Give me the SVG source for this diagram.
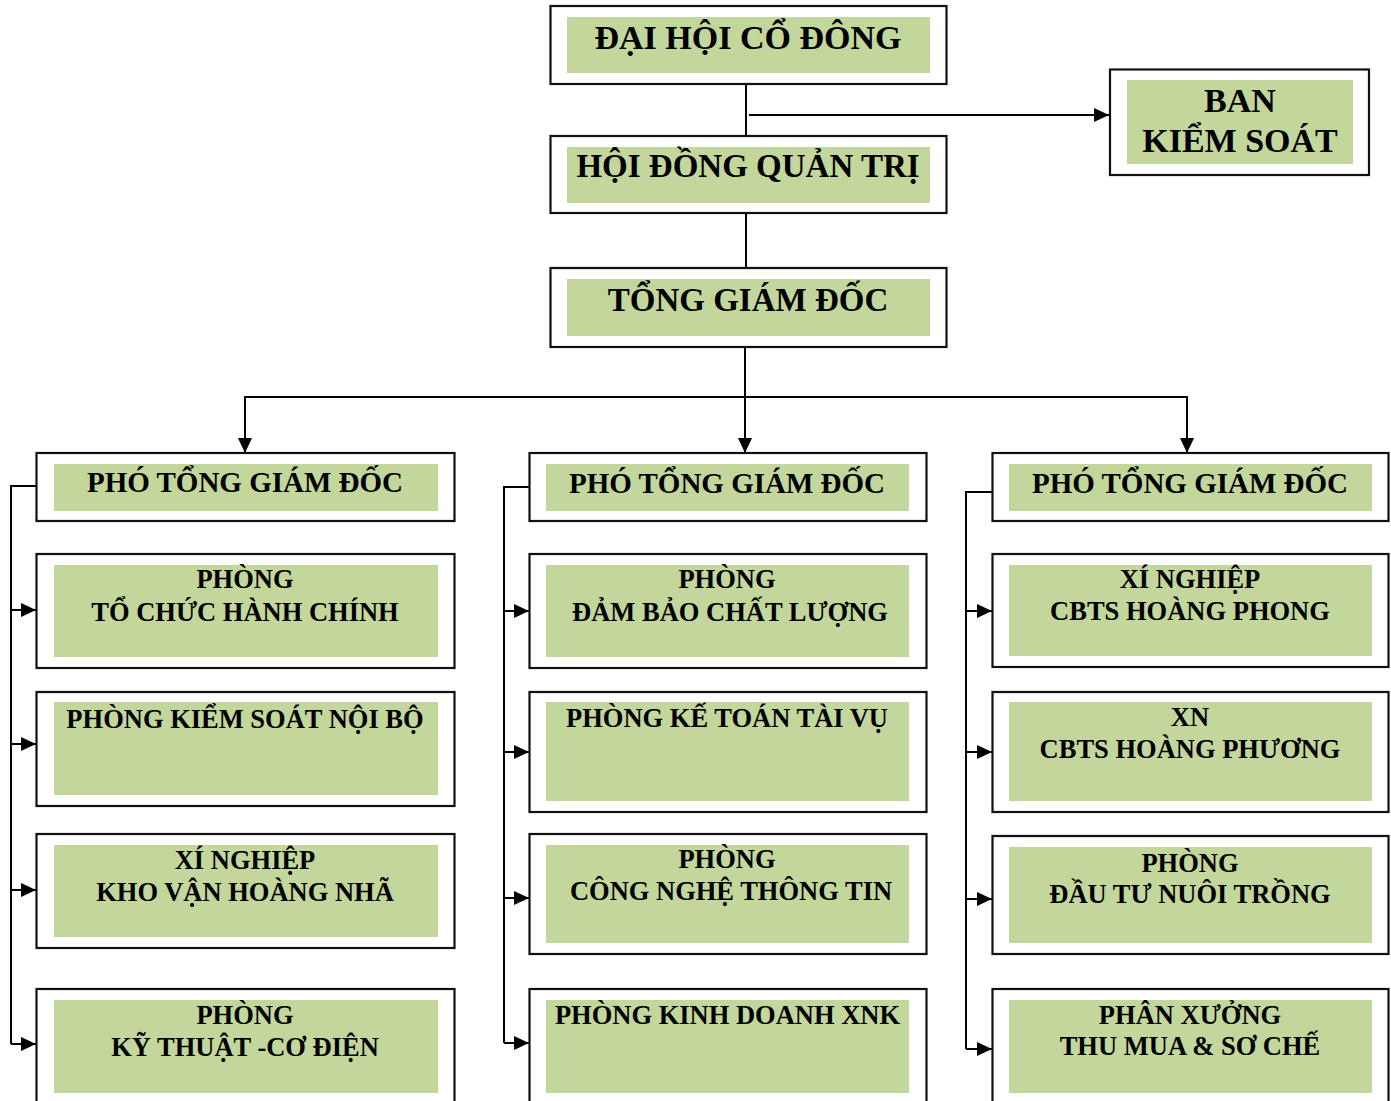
<svg xmlns="http://www.w3.org/2000/svg" width="1391" height="1101" viewBox="0 0 1391 1101">
<style>
.o{fill:#fff;stroke:#111;stroke-width:2.2}
.g{fill:#C3D69B}
text{font-family:"Liberation Serif","Times New Roman",serif;font-weight:bold;fill:#000;text-anchor:middle}
.t1{font-size:33px}
.t0{font-size:34px}
.t2{font-size:29px}
.t3{font-size:26.5px}
.c{fill:none;stroke:#000;stroke-width:2}
</style>
<defs>
<marker id="ah" markerWidth="15" markerHeight="14" refX="15" refY="7" orient="auto" markerUnits="userSpaceOnUse"><path d="M0,0 L15,7 L0,14 Z" fill="#000"/></marker>
</defs>
<rect width="1391" height="1101" fill="#fff"/>
<g id="connectors">
<path class="c" d="M746,84 V136"/>
<path class="c" d="M749,115 H1109" marker-end="url(#ah)"/>
<path class="c" d="M746,213 V268"/>
<path class="c" d="M745,347 V453" marker-end="url(#ah)"/>
<path class="c" d="M245,397 H1187"/>
<path class="c" d="M245,396 V453" marker-end="url(#ah)"/>
<path class="c" d="M1187,396 V453" marker-end="url(#ah)"/>
<path class="c" d="M36,486 H11 V1044"/>
<path class="c" d="M11,610 H36" marker-end="url(#ah)"/>
<path class="c" d="M11,744 H36" marker-end="url(#ah)"/>
<path class="c" d="M11,890 H36" marker-end="url(#ah)"/>
<path class="c" d="M11,1044 H36" marker-end="url(#ah)"/>
<path class="c" d="M529,487 H504 V1043"/>
<path class="c" d="M504,611 H529" marker-end="url(#ah)"/>
<path class="c" d="M504,752 H529" marker-end="url(#ah)"/>
<path class="c" d="M504,898 H529" marker-end="url(#ah)"/>
<path class="c" d="M504,1043 H529" marker-end="url(#ah)"/>
<path class="c" d="M992,492 H966 V1049"/>
<path class="c" d="M966,611 H992" marker-end="url(#ah)"/>
<path class="c" d="M966,752 H992" marker-end="url(#ah)"/>
<path class="c" d="M966,899 H992" marker-end="url(#ah)"/>
<path class="c" d="M966,1049 H992" marker-end="url(#ah)"/>
</g>
<g id="dhcd"><rect class="o" x="550.5" y="6" width="396" height="78"/><rect class="g" x="567" y="17" width="363" height="56"/><text class="t0" x="748" y="49">ĐẠI HỘI CỔ ĐÔNG</text></g>
<g id="hdqt"><rect class="o" x="550.5" y="136" width="396" height="77"/><rect class="g" x="567" y="147" width="363" height="56"/><text class="t1" x="748" y="177">HỘI ĐỒNG QUẢN TRỊ</text></g>
<g id="tgd"><rect class="o" x="550.5" y="268" width="396" height="79"/><rect class="g" x="567" y="279" width="363" height="57"/><text class="t1" x="748" y="311">TỔNG GIÁM ĐỐC</text></g>
<g id="bks"><rect class="o" x="1110" y="69.5" width="259" height="105.5"/><rect class="g" x="1127" y="80" width="226" height="84"/><text class="t0" x="1240" y="112">BAN</text><text class="t0" x="1240" y="152">KIỂM SOÁT</text></g>

<g id="ptgd1"><rect class="o" x="36.5" y="453" width="418" height="68"/><rect class="g" x="54" y="464" width="384" height="47"/><text class="t2" x="245" y="492">PHÓ TỔNG GIÁM ĐỐC</text></g>
<g id="tchc"><rect class="o" x="36.5" y="554" width="418" height="114"/><rect class="g" x="54" y="565" width="384" height="92"/><text class="t3" x="245" y="588">PHÒNG</text><text class="t3" x="245" y="621">TỔ CHỨC HÀNH CHÍNH</text></g>
<g id="ksnb"><rect class="o" x="36.5" y="692" width="418" height="114"/><rect class="g" x="54" y="702" width="384" height="93"/><text class="t3" x="245" y="728">PHÒNG KIỂM SOÁT NỘI BỘ</text></g>
<g id="kvhn"><rect class="o" x="36.5" y="834" width="418" height="114"/><rect class="g" x="54" y="845" width="384" height="92"/><text class="t3" x="245" y="869">XÍ NGHIỆP</text><text class="t3" x="245" y="901">KHO VẬN HOÀNG NHÃ</text></g>
<g id="ktcd"><rect class="o" x="36.5" y="989" width="418" height="130"/><rect class="g" x="54" y="1000" width="384" height="93"/><text class="t3" x="245" y="1024">PHÒNG</text><text class="t3" x="245" y="1056">KỸ THUẬT -CƠ ĐIỆN</text></g>

<g id="ptgd2"><rect class="o" x="529.5" y="453" width="397" height="68"/><rect class="g" x="546" y="464" width="363" height="47"/><text class="t2" x="727" y="493">PHÓ TỔNG GIÁM ĐỐC</text></g>
<g id="dbcl"><rect class="o" x="529.5" y="554" width="397" height="114"/><rect class="g" x="546" y="565" width="363" height="92"/><text class="t3" x="727" y="588">PHÒNG</text><text class="t3" x="730" y="621">ĐẢM BẢO CHẤT LƯỢNG</text></g>
<g id="kttv"><rect class="o" x="529.5" y="692" width="397" height="120"/><rect class="g" x="546" y="702" width="363" height="99"/><text class="t3" x="727" y="727">PHÒNG KẾ TOÁN TÀI VỤ</text></g>
<g id="cntt"><rect class="o" x="529.5" y="834" width="397" height="120"/><rect class="g" x="546" y="845" width="363" height="98"/><text class="t3" x="727" y="868">PHÒNG</text><text class="t3" x="731" y="900">CÔNG NGHỆ THÔNG TIN</text></g>
<g id="kdxnk"><rect class="o" x="529.5" y="989" width="397" height="130"/><rect class="g" x="546" y="1000" width="363" height="93"/><text class="t3" x="727.5" y="1024">PHÒNG KINH DOANH XNK</text></g>

<g id="ptgd3"><rect class="o" x="992.5" y="453" width="396" height="68"/><rect class="g" x="1009" y="464" width="363" height="47"/><text class="t2" x="1190" y="493">PHÓ TỔNG GIÁM ĐỐC</text></g>
<g id="hphong"><rect class="o" x="992.5" y="554" width="396" height="113"/><rect class="g" x="1009" y="565" width="363" height="91"/><text class="t3" x="1190" y="588">XÍ NGHIỆP</text><text class="t3" x="1190" y="620">CBTS HOÀNG PHONG</text></g>
<g id="hphuong"><rect class="o" x="992.5" y="692" width="396" height="120"/><rect class="g" x="1009" y="702" width="363" height="99"/><text class="t3" x="1190" y="726">XN</text><text class="t3" x="1190" y="758">CBTS HOÀNG PHƯƠNG</text></g>
<g id="dtnt"><rect class="o" x="992.5" y="836" width="396" height="118"/><rect class="g" x="1009" y="847" width="363" height="96"/><text class="t3" x="1190" y="872">PHÒNG</text><text class="t3" x="1190" y="903">ĐẦU TƯ NUÔI TRỒNG</text></g>
<g id="tmsc"><rect class="o" x="992.5" y="989" width="396" height="130"/><rect class="g" x="1009" y="1000" width="363" height="93"/><text class="t3" x="1190" y="1024">PHÂN XƯỞNG</text><text class="t3" x="1190" y="1055">THU MUA &amp; SƠ CHẾ</text></g>
</svg>
